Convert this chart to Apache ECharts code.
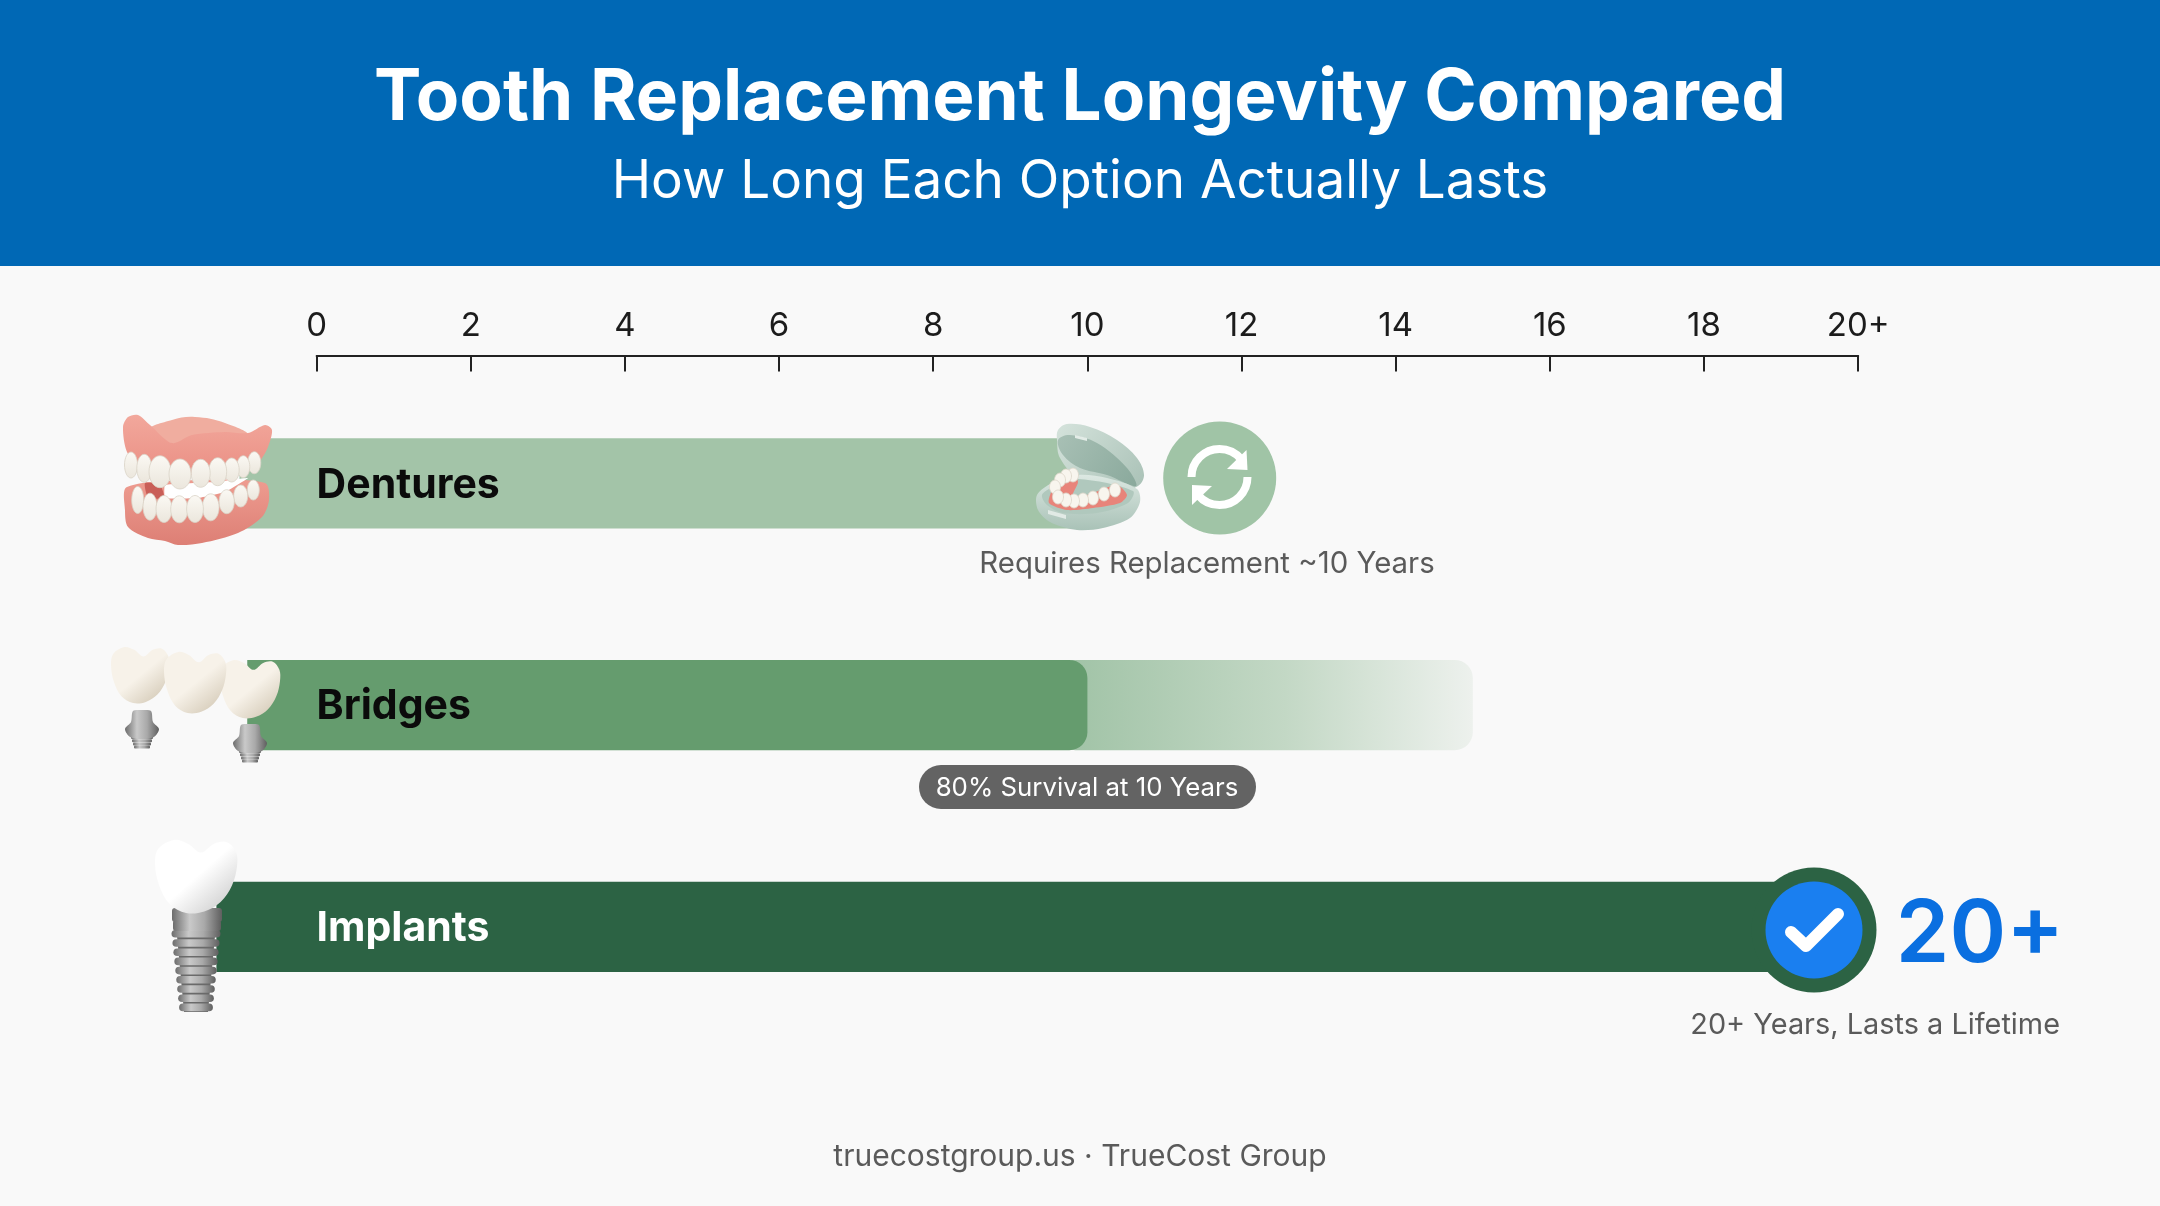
<!DOCTYPE html>
<html lang="en">
<head>
<meta charset="utf-8" />
<title>Tooth Replacement Longevity Compared</title>
<script src="https://cdn.jsdelivr.net/npm/echarts@6/dist/echarts.min.js"></script>
<style>
  html, body { margin: 0; padding: 0; background: #f9f9f9; }
  #chart { width: 2160px; height: 1206px; }
</style>
</head>
<body>
<div id="chart"></div>
<script>
// data
var categories = ['Dentures', 'Bridges', 'Implants'];
var barStart = [-1, -0.9, -1.3];      // bars run on behind the pictures
var barEnd = [10, 10, 19.4];          // years
var fadeEnd = [null, 15, null];       // bridges fade out after the 10 year mark
var tickLabels = ['0', '2', '4', '6', '8', '10', '12', '14', '16', '18', '20+'];
var barColors = ['#a3c4a8', '#659c6e', '#2c6344'];
var labelColors = ['#0b0b0b', '#0b0b0b', '#ffffff'];

var FONT = 'Inter, "Noto Sans", sans-serif';
var myChart = echarts.init(document.getElementById('chart'));
var LG = echarts.graphic.LinearGradient;

function renderBar(params, api) {
  var i = api.value(2);
  var s = api.coord([api.value(0), i]);
  var e = api.coord([api.value(1), i]);
  var h = api.size([0, 1])[1] * 0.407;
  var children = [];
  if (fadeEnd[i] != null) {
    var f = api.coord([fadeEnd[i], i]);
    children.push({
      type: 'rect',
      shape: { x: e[0] - 30, y: s[1] - h / 2, width: f[0] - e[0] + 30, height: h, r: 18 },
      style: { fill: new LG(0, 0, 1, 0, [
        { offset: 0, color: '#9fc2a5' },
        { offset: 0.55, color: '#c3d8c5' },
        { offset: 1, color: '#edf1ed' }
      ]) }
    });
  }
  children.push({
    type: 'rect',
    shape: { x: s[0], y: s[1] - h / 2, width: e[0] - s[0], height: h, r: fadeEnd[i] != null ? [0, 18, 18, 0] : 0 },
    style: { fill: barColors[i] }
  });
  var zero = api.coord([0, i]);
  children.push({
    type: 'text',
    x: zero[0],
    y: s[1] + 2,
    style: {
      text: categories[i],
      fill: labelColors[i],
      font: '700 41px ' + FONT,
      align: 'left',
      verticalAlign: 'middle'
    }
  });
  return { type: 'group', children: children };
}

// picture helpers, plain graphic elements
var els = [];
function add(o) { els.push(o); }
function blob(points, fill, smooth, extra) {
  var o = { type: 'polygon', shape: { points: points, smooth: smooth == null ? 0.4 : smooth }, style: { fill: fill } };
  if (extra) { for (var k in extra) { o.style[k] = extra[k]; } }
  add(o);
}
function ell(cx, cy, rx, ry, fill, stroke) {
  add({ type: 'ellipse', shape: { cx: cx, cy: cy, rx: rx, ry: ry }, style: { fill: fill, stroke: stroke || null, lineWidth: 0.8 } });
}
function txt(text, x, y, font, fill, align) {
  add({ type: 'text', x: x, y: y, style: { text: text, font: font, fill: fill, align: align || 'center', verticalAlign: 'middle' } });
}
function silver() {
  return new LG(0, 0, 1, 0, [
    { offset: 0, color: '#6d6d6d' },
    { offset: 0.35, color: '#c9c9c9' },
    { offset: 0.65, color: '#a9a9a9' },
    { offset: 1, color: '#5f5f5f' }
  ]);
}
function crown(cx, top, w, h, c1, c2) {
  var shape = [[-0.5, 0.32], [-0.46, 0.12], [-0.27, 0], [-0.1, 0.05], [0.06, 0.17], [0.22, 0.05], [0.38, 0.03], [0.49, 0.17],
    [0.5, 0.36], [0.44, 0.62], [0.3, 0.85], [0.1, 0.98], [-0.12, 1], [-0.32, 0.88], [-0.45, 0.62]];
  blob(shape.map(function (p) { return [cx + p[0] * w, top + p[1] * h]; }),
    new LG(0.1, 0, 0.9, 1, [{ offset: 0, color: c1 }, { offset: 0.5, color: c1 }, { offset: 1, color: c2 }]), 0.35);
}
function abutment(cx, top) {
  for (var i = 0; i < 4; i++) {
    add({ type: 'rect', shape: { x: cx - 11 + i, y: top + 26 + i * 3.2, width: 22 - 2 * i, height: 3, r: 1 }, style: { fill: silver() } });
  }
  blob([[cx - 9, top + 1], [cx, top], [cx + 9, top + 1], [cx + 11, top + 12], [cx + 17, top + 19], [cx + 12, top + 27],
    [cx, top + 29], [cx - 12, top + 27], [cx - 17, top + 19], [cx - 11, top + 12]], silver(), 0.3);
}
var i;

// banner
add({ type: 'rect', shape: { x: 0, y: 0, width: 2160, height: 266 }, style: { fill: '#0068b5' } });

// dentures
blob([[127, 487], [125, 510], [128, 527], [148, 538], [165, 541], [178, 545], [202, 543], [238, 533], [262, 517], [269, 500], [265, 483], [200, 480]],
  new LG(0, 0, 0, 1, [{ offset: 0, color: '#ee9c90' }, { offset: 1, color: '#dd7f75' }]), 0.3);
blob([[165, 485], [215, 482], [248, 478], [225, 492], [198, 498], [165, 498]], '#ffffff', 0.1);
blob([[145, 483], [160, 485], [164, 498], [148, 497]], '#c95f58', 0.2);
var lowX = [253.3, 240.7, 226.7, 137.7, 150, 164, 179.3, 210.7, 195];
var lowY = [490, 496, 501.7, 500, 506.7, 509, 509.3, 507.3, 509];
var lowRx = [6, 7, 7.6, 6, 7, 8, 8.6, 8.4, 8.4];
var lowRy = [10, 11, 12, 13.5, 13.5, 13.5, 13.5, 13.5, 13.5];
var teethFill = new LG(0, 0, 0, 1, [{ offset: 0, color: '#fbf9f4' }, { offset: 1, color: '#ebe6dc' }]);
for (i = 0; i < lowX.length; i++) { ell(lowX[i], lowY[i], lowRx[i], lowRy[i], teethFill, '#d9d3c6'); }
// gum dome, then lip fold in front of it
blob([[150, 430], [172, 420], [195, 417], [225, 423], [248, 436], [200, 450]], '#f0ad9f', 0.4);
blob([[123, 427], [128, 417], [138, 415], [150, 425], [172, 443], [192, 435], [225, 432], [248, 433], [265, 425], [272, 430],
  [268, 447], [262, 458], [255, 467], [215, 473], [170, 475], [138, 463], [127, 452]],
  new LG(0, 0, 0, 1, [{ offset: 0, color: '#f2a89c' }, { offset: 1, color: '#ea8f84' }]), 0.3);
var upX = [131, 254.3, 243.3, 144.3, 231.7, 217.7, 200.7, 160, 180];
var upY = [465, 462.7, 466.7, 468.3, 470, 471.7, 473.3, 471.7, 474];
var upRx = [6.5, 6.5, 6.5, 7.5, 7.5, 9, 9.5, 11, 11];
var upRy = [13, 11, 11, 14, 12, 14, 14, 16, 15];
for (i = 0; i < upX.length; i++) { ell(upX[i], upY[i], upRx[i], upRy[i], teethFill, '#d9d3c6'); }

// retainer case
blob([[1057, 440], [1058, 430], [1067, 424], [1090, 427], [1117, 440], [1137, 458], [1144, 475], [1138, 486], [1120, 490], [1080, 480], [1060, 458]],
  new LG(0, 0, 1, 1, [{ offset: 0, color: '#d5e3dc' }, { offset: 1, color: '#a9c1b6' }]), 0.35);
blob([[1058, 440], [1070, 435], [1097, 443], [1127, 468], [1136, 486], [1107, 475], [1080, 468], [1063, 455]],
  new LG(0, 0, 1, 1, [{ offset: 0, color: '#a8c0b5' }, { offset: 1, color: '#8aa99c' }]), 0.35);
blob([[1075, 435], [1087, 438], [1087, 441], [1075, 438]], '#e3ece7', 0);
blob([[1037, 495], [1052, 483], [1078, 475], [1107, 478], [1137, 489], [1140, 502], [1130, 518], [1103, 528], [1077, 530], [1050, 522], [1038, 510]],
  new LG(0, 0, 0, 1, [{ offset: 0, color: '#dce8e2' }, { offset: 1, color: '#a9c2b7' }]), 0.3);
blob([[1042, 495], [1053, 487], [1078, 479], [1133, 491], [1128, 503], [1097, 513], [1063, 513], [1047, 505]], '#b0c8bd', 0.3);
blob([[1049, 503], [1052, 490], [1060, 477], [1072, 472], [1078, 482], [1073, 495], [1087, 495], [1117, 485], [1127, 495], [1120, 503], [1093, 508], [1067, 510]],
  '#e8847a', 0.25);
var caseX = [1073, 1066, 1060, 1055, 1115, 1104, 1093, 1083, 1074, 1066, 1058];
var caseY = [475, 476, 480, 487, 490, 494, 498, 500, 501, 500, 497];
for (i = 0; i < caseX.length; i++) { ell(caseX[i], caseY[i], 5.5, 7, '#f8f5ee', '#dcd6c9'); }
blob([[1048, 510], [1066, 515], [1066, 519], [1048, 514]], '#e1eae5', 0);

// replacement badge
add({ type: 'circle', shape: { cx: 1219.7, cy: 478, r: 56.5 }, style: { fill: '#a0c4a6' } });
add({ type: 'arc', shape: { cx: 1219.5, cy: 477, r: 28, startAngle: Math.PI, endAngle: Math.PI * 1.78, clockwise: true }, style: { stroke: '#ffffff', fill: null, lineWidth: 8 } });
add({ type: 'arc', shape: { cx: 1219.5, cy: 477, r: 28, startAngle: 0, endAngle: Math.PI * 0.78, clockwise: true }, style: { stroke: '#ffffff', fill: null, lineWidth: 8 } });
blob([[1246.5, 450], [1247.5, 470], [1227, 469]], '#ffffff', 0);
blob([[1192, 505], [1192, 485], [1212, 486]], '#ffffff', 0);
txt('Requires Replacement ~10 Years', 1207, 564, '400 29.4px ' + FONT, '#5a5a5a');

// bridge
abutment(142, 710);
abutment(250, 724);
crown(140, 647, 58, 56, '#f7f2e9', '#d0c5b1');
crown(250, 660, 60, 58, '#f7f2e9', '#d0c5b1');
crown(195, 652, 62, 61, '#f7f2e9', '#d0c5b1');
add({ type: 'rect', shape: { x: 919, y: 765, width: 337, height: 44, r: 22 }, style: { fill: '#636363' } });
txt('80% Survival at 10 Years', 1087, 788.5, '400 25.8px ' + FONT, '#ffffff');

// implant
blob([[176, 925], [216, 925], [208, 1012], [184, 1012]], '#6a6a6a', 0);
for (i = 0; i < 9; i++) {
  var w = 49 - i * 1.9;
  add({ type: 'rect', shape: { x: 196 - w / 2, y: 930 + i * 9.2, width: w, height: 7.6, r: 3.8 }, style: { fill: silver() } });
}
add({ type: 'rect', shape: { x: 172, y: 908, width: 50, height: 14, r: 3 }, style: { fill: silver() } });
add({ type: 'rect', shape: { x: 173, y: 920, width: 48, height: 11, r: 3 }, style: { fill: silver() } });
crown(196, 840, 82, 73, '#ffffff', '#c9c9c9');

// check mark
add({ type: 'circle', shape: { cx: 1814, cy: 930, r: 62.5 }, style: { fill: '#2c6344' } });
add({ type: 'circle', shape: { cx: 1814, cy: 930, r: 48.5 }, style: { fill: '#1a7ff0' } });
add({ type: 'polyline', shape: { points: [[1791, 932], [1806, 946], [1838, 914]] }, style: { stroke: '#ffffff', fill: null, lineWidth: 12, lineCap: 'round', lineJoin: 'round' } });
txt('20+', 2064, 936, '600 86px ' + FONT, '#0a6fe0', 'right');
txt('20+ Years, Lasts a Lifetime', 2060, 1025, '400 28.9px ' + FONT, '#5a5a5a', 'right');

// footer
txt('truecostgroup.us · TrueCost Group', 1080, 1157, '400 30px ' + FONT, '#5a5a5a');

var option = {
  backgroundColor: '#f9f9f9',
  animation: false,
  title: {
    text: 'Tooth Replacement Longevity Compared',
    subtext: 'How Long Each Option Actually Lasts',
    left: 'center',
    top: 58,
    itemGap: 22,
    textStyle: { color: '#ffffff', fontFamily: 'Inter', fontWeight: 700, fontSize: 71 },
    subtextStyle: { color: '#ffffff', fontFamily: 'Inter', fontWeight: 400, fontSize: 53 }
  },
  grid: { left: 316.6, width: 1541.6, top: 372.6, height: 665 },
  xAxis: {
    type: 'value',
    position: 'top',
    offset: 17,
    min: 0,
    max: 20,
    interval: 2,
    splitLine: { show: false },
    axisLine: { show: true, lineStyle: { color: '#222222', width: 2 } },
    axisTick: { show: true, inside: true, length: 16, lineStyle: { color: '#222222', width: 2 } },
    axisLabel: {
      inside: false,
      margin: 13,
      color: '#1c1c1c',
      fontFamily: 'Inter',
      fontSize: 33,
      formatter: function (v) { return tickLabels[v / 2]; }
    }
  },
  yAxis: { type: 'category', inverse: true, data: categories, show: false },
  graphic: { elements: els },
  series: [{
    type: 'custom',
    z: -1,
    renderItem: renderBar,
    encode: { x: [0, 1], y: 2 },
    data: categories.map(function (c, i) { return [barStart[i], barEnd[i], i]; })
  }]
};
myChart.setOption(option);
</script>
</body>
</html>
